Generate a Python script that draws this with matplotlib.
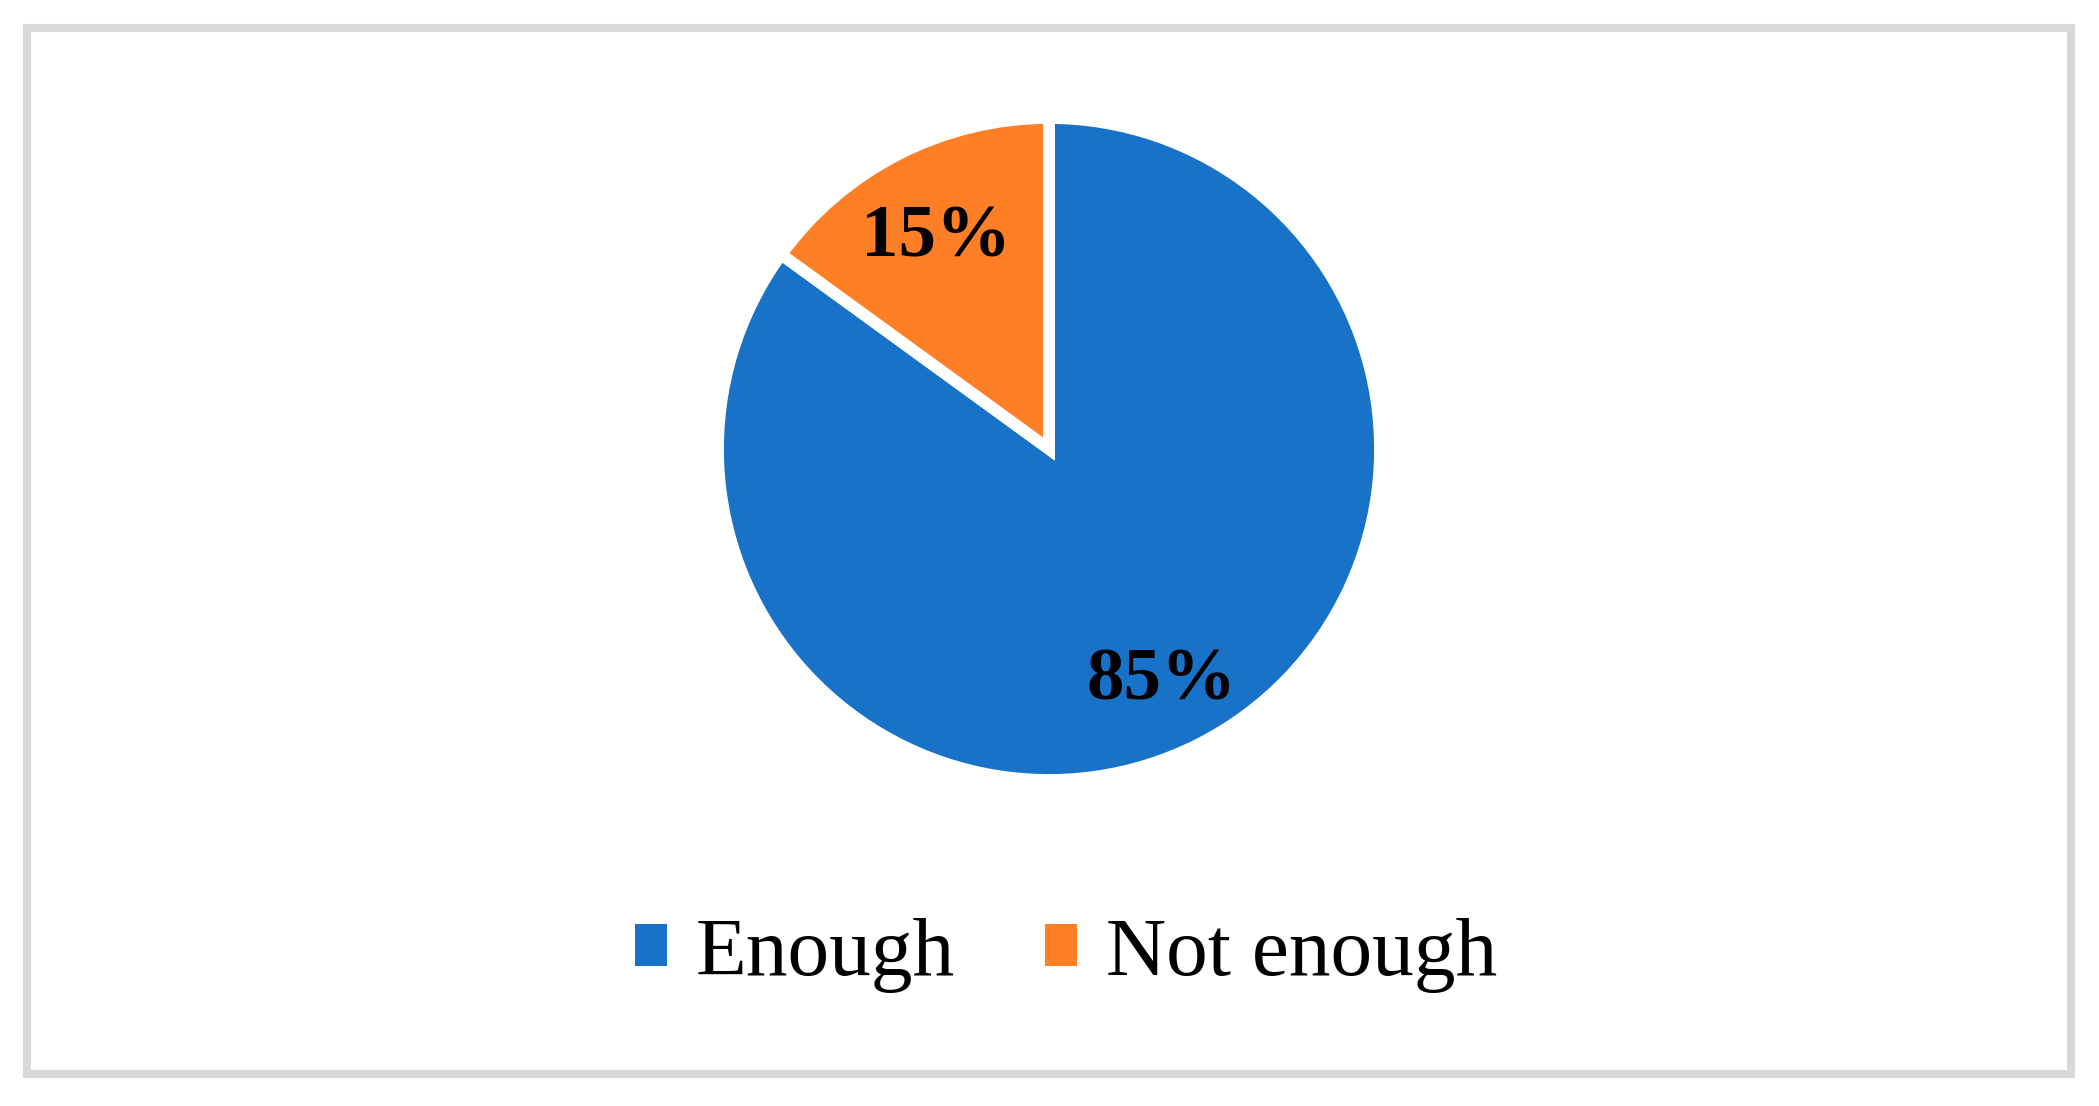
import matplotlib.pyplot as plt
from matplotlib.patches import Rectangle, Patch

# data
labels = ['Enough', 'Not enough']
shares = [85, 15]
colors = ['#1873C8', '#FF7F27']

W, H = 2099, 1106
fig = plt.figure(figsize=(W / 100, H / 100), dpi=100)
fig.patch.set_facecolor('white')

# light grey frame round the chart
fig.add_artist(Rectangle((27 / W, 1 - 1073.5 / H), (2070.5 - 27) / W, (1073.5 - 27.5) / H,
                         transform=fig.transFigure, fill=False,
                         edgecolor='#D9D9D9', linewidth=5.8))

# pie axes: centre at (1049, 449) px, radius ~331 px
cx, cy, r = 1049, 449, 331
ax = fig.add_axes([(cx - r) / W, 1 - (cy + r) / H, 2 * r / W, 2 * r / H])
wedges, texts, autotexts = ax.pie(
    shares, colors=colors, startangle=90, counterclock=False,
    autopct='%1.0f%%', pctdistance=0.75, radius=1,
    wedgeprops=dict(edgecolor='white', linewidth=8.5),
    textprops=dict(family='Liberation Serif', fontsize=54, fontweight='bold', color='black'))
# nudge labels down a little (matplotlib centres on the full text box)
for t in autotexts:
    x, y = t.get_position()
    t.set_position((x, y - 11 / r))
ax.set_xlim(-1, 1)
ax.set_ylim(-1, 1)
ax.set_aspect('equal')
ax.axis('off')

handles = [Patch(facecolor=c, edgecolor='none') for c in colors]
fig.legend(handles, labels, loc='center', bbox_to_anchor=(1066 / W, 1 - 955 / H),
           ncol=2, frameon=False, borderpad=0,
           prop=dict(family='Liberation Serif', size=60),
           handlelength=0.38, handleheight=0.41, handletextpad=0.35,
           columnspacing=1.08)

fig.savefig('out.png', dpi=100)
